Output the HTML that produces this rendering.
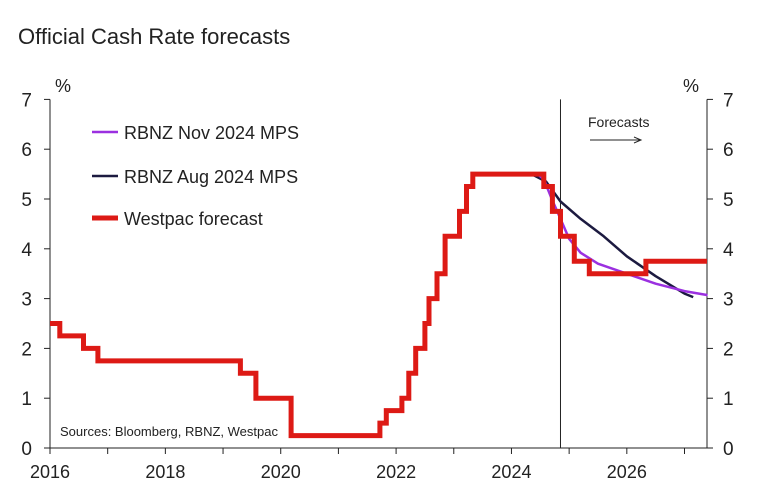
<!DOCTYPE html>
<html><head><meta charset="utf-8"><style>
body{margin:0;background:#fff}
svg text{font-family:"Liberation Sans",Arial,sans-serif;fill:#222}
</style></head><body>
<svg width="758" height="495" xmlns="http://www.w3.org/2000/svg">
<text x="18" y="44" font-size="22">Official Cash Rate forecasts</text>
<g id="axes"></g>
<g id="marks"></g>
<g>
<line x1="92" y1="132" x2="118" y2="132" stroke="#9b30e0" stroke-width="2.5"/>
<text x="124" y="139" font-size="18">RBNZ Nov 2024 MPS</text>
<line x1="92" y1="176" x2="118" y2="176" stroke="#1c1a40" stroke-width="2.5"/>
<text x="124" y="183" font-size="18">RBNZ Aug 2024 MPS</text>
<line x1="92" y1="218" x2="118" y2="218" stroke="#dd1a15" stroke-width="5"/>
<text x="124" y="225" font-size="18">Westpac forecast</text>
</g>
<text x="588" y="127" font-size="14">Forecasts</text>
<line x1="590" y1="140" x2="640" y2="140" stroke="#222" stroke-width="1"/>
<path d="M634,137 L641,140 L634,143" fill="none" stroke="#222" stroke-width="1"/>
<text x="60" y="436" font-size="13">Sources: Bloomberg, RBNZ, Westpac</text>
</svg>
<script>
const yTicks=[0,1,2,3,4,5,6,7];
const xTickLabels=[2016,2018,2020,2022,2024,2026];
const westpacDates=[2016.0,2016.17,2016.58,2016.83,2019.3,2019.57,2020.18,2021.72,2021.83,2022.1,2022.22,2022.34,2022.5,2022.57,2022.71,2022.85,2023.1,2023.22,2023.33,2024.56,2024.71,2024.85,2025.09,2025.35,2026.33];
const westpacRates=[2.5,2.25,2.0,1.75,1.5,1.0,0.25,0.5,0.75,1.0,1.5,2.0,2.5,3.0,3.5,4.25,4.75,5.25,5.5,5.25,4.75,4.25,3.75,3.5,3.75];
const novDates=[2024.45,2024.56,2024.7,2024.85,2025.0,2025.2,2025.5,2026.0,2026.5,2027.0,2027.4];
const novRates=[5.5,5.4,5.0,4.6,4.2,3.92,3.7,3.5,3.3,3.15,3.07];
const augDates=[2024.35,2024.6,2024.85,2025.2,2025.6,2026.0,2026.5,2027.0,2027.15];
const augRates=[5.5,5.35,4.95,4.6,4.25,3.85,3.45,3.1,3.03];
const forecastStart=2024.85;
const x0=2016,x1=2027.39,px0=50,px1=707,py0=448,py1=99.4;
const X=d=>px0+(d-x0)/(x1-x0)*(px1-px0);
const Y=v=>py0-v/7*(py0-py1);
const NS="http://www.w3.org/2000/svg";
function mk(tag,attrs,parent,text){const e=document.createElementNS(NS,tag);for(const k in attrs)e.setAttribute(k,attrs[k]);if(text!=null)e.textContent=text;parent.appendChild(e);return e;}
const axes=document.getElementById('axes'),marks=document.getElementById('marks');
let e;
e=mk('line',{x1:px0,y1:py1,x2:px0,y2:py0,stroke:'#222'},axes);


e=mk('line',{x1:px1,y1:py1,x2:px1,y2:py0,stroke:'#222'},axes);


e=mk('line',{x1:px0,y1:py0,x2:px1,y2:py0,stroke:'#222'},axes);


yTicks.forEach(v=>{
 mk('line',{x1:px0-6,y1:Y(v),x2:px0,y2:Y(v),stroke:'#222'},axes);
 mk('line',{x1:px1,y1:Y(v),x2:px1+6,y2:Y(v),stroke:'#222'},axes);
 e=mk('text',{x:px0-18,y:Y(v)+7,'font-size':19,'text-anchor':'end'},axes,String(v));
 
 
 e=mk('text',{x:px1+16,y:Y(v)+7,'font-size':19},axes,String(v));
 
 
});
e=mk('text',{x:55,y:92,'font-size':18},axes,'%');


e=mk('text',{x:683,y:92,'font-size':18},axes,'%');


for(let yr=2016;yr<=2027;yr++){mk('line',{x1:X(yr),y1:py0,x2:X(yr),y2:py0+6,stroke:'#222'},axes);}
xTickLabels.forEach(yr=>{
 e=mk('text',{x:X(yr),y:py0+30,'font-size':18,'text-anchor':'middle'},axes,String(yr));
 
 
});
e=mk('line',{x1:X(forecastStart),y1:py1,x2:X(forecastStart),y2:py0,stroke:'#222','stroke-width':1},marks);


function poly(ds,vs){return ds.map((d,i)=>X(d).toFixed(1)+','+Y(vs[i]).toFixed(1)).join(' ');}
e=mk('polyline',{points:poly(augDates,augRates),fill:'none',stroke:'#1c1a40','stroke-width':2.5,'stroke-linejoin':'round'},marks);


e=mk('polyline',{points:poly(novDates,novRates),fill:'none',stroke:'#9b30e0','stroke-width':2.5,'stroke-linejoin':'round'},marks);


let pts=[];
westpacDates.forEach((d,i)=>{
 if(i>0)pts.push(X(d).toFixed(1)+','+Y(westpacRates[i-1]).toFixed(1));
 pts.push(X(d).toFixed(1)+','+Y(westpacRates[i]).toFixed(1));
});
pts.push(X(x1).toFixed(1)+','+Y(westpacRates[westpacRates.length-1]).toFixed(1));
e=mk('polyline',{points:pts.join(' '),fill:'none',stroke:'#dd1a15','stroke-width':5,'stroke-linejoin':'miter'},marks);


</script>
</body></html>
